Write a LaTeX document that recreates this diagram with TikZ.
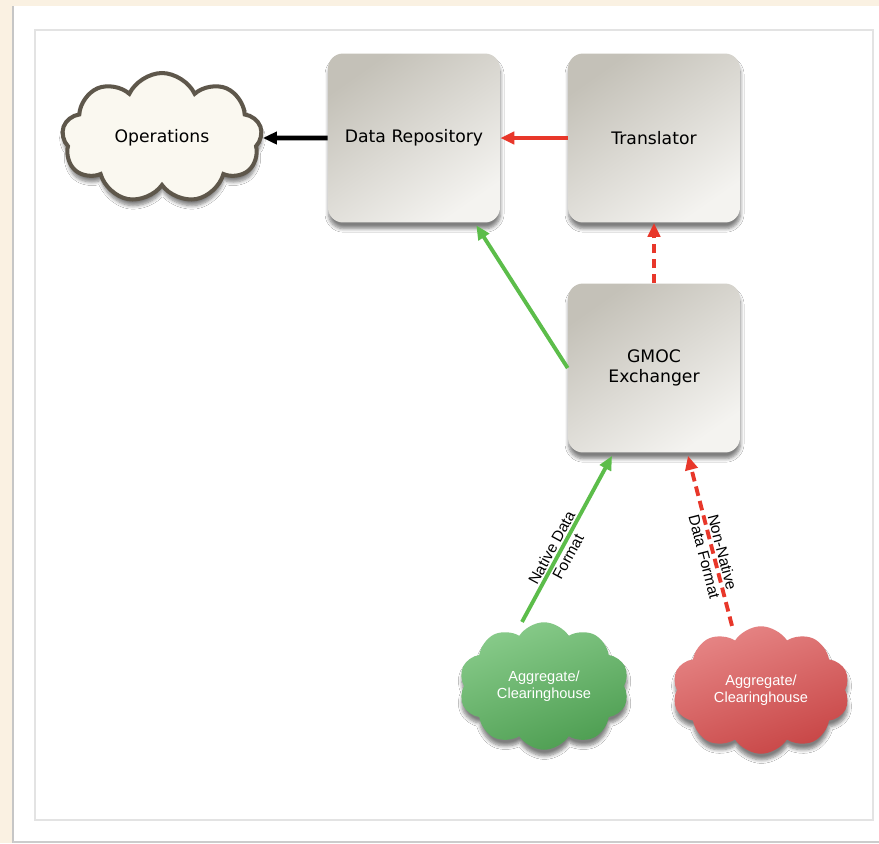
\documentclass[tikz,border=0pt]{standalone}
\usepackage{fontspec}
\setmainfont{DejaVu Sans}
\newfontfamily\cloudfont{Liberation Sans}
\usepackage{tikz}
\usetikzlibrary{positioning,arrows.meta}
\usetikzlibrary{shapes.symbols}
\usetikzlibrary{shadows.blur}

\definecolor{framebg}{HTML}{FAF1E2}
\definecolor{boxdark}{HTML}{C4C1B8}
\definecolor{boxlight}{HTML}{F4F3F0}
\definecolor{opsfill}{HTML}{FAF8F0}
\definecolor{opsline}{HTML}{5E574B}
\definecolor{aggtop}{HTML}{88CB8A}
\definecolor{aggbot}{HTML}{4E9E52}
\definecolor{badtop}{HTML}{E68585}
\definecolor{badbot}{HTML}{C84646}
\definecolor{okgreen}{HTML}{5CBD4A}
\definecolor{badred}{HTML}{E8372A}

\begin{document}
\begin{tikzpicture}[x=0.02cm,y=-0.02cm,
  softshadow/.style={blur shadow={shadow xshift=0.3pt,shadow yshift=-3.5pt,shadow blur radius=2pt,shadow blur steps=6,shadow opacity=50}},
  box/.style={rectangle,rounded corners=0.3cm,minimum width=3.44cm,minimum height=3.38cm,
    top color=boxdark,bottom color=boxlight,shading angle=35,softshadow,
    align=center,font=\fontsize{9.8}{11.8}\selectfont},
  opscloud/.style={cloud,cloud puffs=9,cloud puff arc=130,cloud ignores aspect,
    minimum width=4.0cm,minimum height=2.6cm,draw=opsline,line width=2.3pt,fill=opsfill,softshadow,
    font=\fontsize{9.8}{11.8}\selectfont},
  aggcloud/.style={cloud,cloud puffs=10,cloud puff arc=115,cloud ignores aspect,
    minimum width=3.4cm,minimum height=2.55cm,softshadow,text=white,align=center,
    font=\cloudfont\fontsize{8.3}{9.6}\selectfont},
  wire/.style={line width=2.2pt,-{Triangle[length=8pt,width=7pt]}},
  dashwire/.style={wire,dash pattern=on 5.5pt off 3pt},
  lbl/.style={sloped,pos=0.42,align=center,text=black,font=\cloudfont\fontsize{8.8}{10.6}\selectfont}]
  \useasboundingbox (0,0) rectangle (879,843);
  \fill[framebg] (0,0) rectangle (879,843);
  \fill[white] (13,6) rectangle (879,843);
  \draw[gray!45,line width=1pt] (13,6) -- (13,843);
  \draw[gray!22,line width=0.8pt] (35,30) rectangle (873,820);
  \draw[gray!40,line width=0.6pt] (13,842) -- (879,842);

  \node[opscloud] (ops) at (162,138) {Operations};
  \node[box] (drepo) at (414,138) {Data Repository};
  \node[box] (trans) at (654,138) {Translator};
  \node[box] (gmoc) at (654,368) {GMOC\\Exchanger};
  \node[aggcloud,top color=aggtop,bottom color=aggbot,shading angle=20] (aggok) at (544,686) {Aggregate/\\Clearinghouse};
  \node[aggcloud,top color=badtop,bottom color=badbot,shading angle=20,minimum width=3.55cm] (aggbad) at (761,690) {Aggregate/\\Clearinghouse};

  \draw[wire,black,line width=2.6pt] (drepo.west) -- (ops.east);
  \draw[wire,badred] (trans.west) -- (drepo.east);
  \draw[dashwire,badred] (gmoc.north) -- (trans.south);
  \draw[wire,okgreen] (gmoc.west) -- ([xshift=-0.48cm,yshift=-0.05cm]drepo.south east);
  \draw[wire,okgreen] ([xshift=-0.44cm]aggok.north) -- node[lbl] {Native Data\\Format} ([xshift=-0.84cm,yshift=-0.06cm]gmoc.south);
  \draw[dashwire,badred] ([xshift=-0.58cm]aggbad.north) -- node[lbl] {Non-Native\\Data Format} ([xshift=0.68cm,yshift=-0.06cm]gmoc.south);
\end{tikzpicture}
\end{document}
